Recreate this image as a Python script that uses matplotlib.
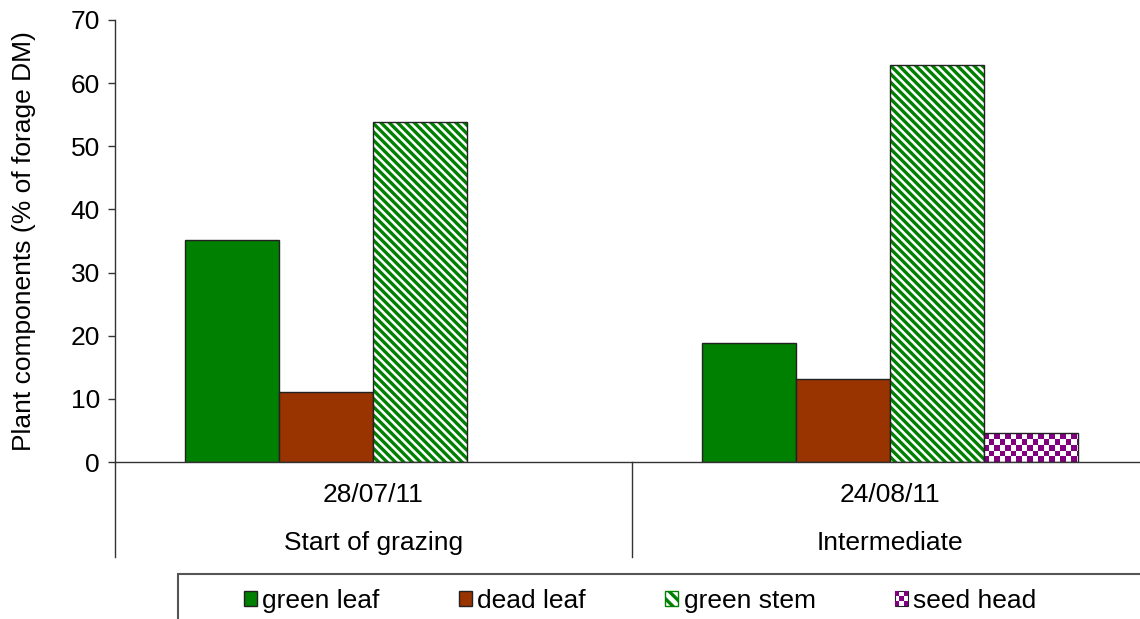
import numpy as np
import matplotlib.pyplot as plt
from matplotlib.patches import Patch, Rectangle
from matplotlib.colors import ListedColormap
from matplotlib.legend_handler import HandlerBase
import matplotlib.transforms as mtransforms

plt.rcParams['font.family'] = ['Liberation Sans', 'DejaVu Sans']
plt.rcParams['hatch.linewidth'] = 2.4

# data
dates = ["28/07/11", "24/08/11"]
stages = ["Start of grazing", "Intermediate"]
components = ["green leaf", "dead leaf", "green stem", "seed head"]
green_leaf = [35.1, 18.9]
dead_leaf = [11.1, 13.2]
green_stem = [53.8, 62.9]
seed_head = [0.0, 4.6]

c_green = "#008000"
c_brown = "#993300"
c_purple = "#800080"
edge = "#222222"
fs = 19


class CheckerHandler(HandlerBase):
    # small checkerboard square for the seed head legend entry
    def create_artists(self, legend, orig_handle, xdescent, ydescent, width, height, fontsize, trans):
        n = 3
        arts = [Rectangle((-xdescent, -ydescent), width, height, facecolor="white",
                          edgecolor=edge, lw=0.8, transform=trans)]
        for i in range(n):
            for j in range(n):
                if (i + j) % 2 == 0:
                    arts.append(Rectangle((-xdescent + i * width / n, -ydescent + j * height / n),
                                          width / n, height / n, facecolor=c_purple,
                                          edgecolor="none", transform=trans))
        return arts


fig = plt.figure(figsize=(11.4, 6.19), dpi=100)
ax = fig.add_axes([0.101, 0.2536, 0.906, 0.7141])

x = np.arange(len(dates))
w = 0.182
ax.bar(x - 1.5 * w, green_leaf, w, color=c_green, edgecolor=edge, linewidth=1)
ax.bar(x - 0.5 * w, dead_leaf, w, color=c_brown, edgecolor=edge, linewidth=1)
# hatched green stem: hatch layer then outline
ax.bar(x + 0.5 * w, green_stem, w, color="white", edgecolor=c_green, linewidth=0, hatch="\\\\\\\\")
ax.bar(x + 0.5 * w, green_stem, w, color="none", edgecolor=edge, linewidth=1)
# seed head: checkerboard fill clipped to each bar
seed = ax.bar(x + 1.5 * w, seed_head, w, color="none", edgecolor=edge, linewidth=1, zorder=3)
checker = np.indices((80, 188)).sum(axis=0) % 2
for p in seed:
    if p.get_height() <= 0:
        p.set_visible(False)
        continue
    im = ax.imshow(checker, cmap=ListedColormap(["white", c_purple]), extent=[0, 1, 0, 1],
                   transform=ax.transAxes, aspect="auto", interpolation="nearest", zorder=2)
    im.set_clip_path(p)

ax.set_xlim(-0.5, 1.5)
ax.set_ylim(0, 70)
ax.set_yticks(range(0, 71, 10))
ax.tick_params(axis="y", direction="out", length=5, width=1, labelsize=fs, pad=6, color="#333333")
ax.set_xticks(x)
ax.set_xticklabels(dates)
ax.tick_params(axis="x", length=0, labelsize=fs, pad=15)
ax.set_ylabel("Plant components (% of forage DM)", fontsize=fs, labelpad=25)

for s in ["top", "right"]:
    ax.spines[s].set_visible(False)
for s in ["left", "bottom"]:
    ax.spines[s].set_color("#333333")
    ax.spines[s].set_linewidth(1)

# second level of category labels and dividers
trans = mtransforms.blended_transform_factory(ax.transData, ax.transAxes)
for xi, st in zip(x, stages):
    ax.text(xi, -0.183, st, transform=trans, ha="center", va="center", fontsize=fs)
for xd in [-0.5, 0.5]:
    ax.plot([xd, xd], [0, -0.215], transform=trans, color="#333333", lw=1, clip_on=False)

# legend with its own frame running off the figure edge
fig.patches.append(Rectangle((178 / 1140, -0.1), 1.0, 0.1 + 45 / 619, transform=fig.transFigure,
                             facecolor="none", edgecolor="#555555", lw=1.5))
handles = [Patch(facecolor=c_green, edgecolor=edge),
           Patch(facecolor=c_brown, edgecolor=edge),
           Patch(facecolor="white", edgecolor=c_green, hatch="\\\\\\"),
           Patch(facecolor=c_purple, edgecolor=edge)]
fig.legend(handles, components, loc="center left", bbox_to_anchor=(244 / 1140, 18 / 619),
           ncol=4, frameon=False, fontsize=fs, handlelength=0.5, handleheight=0.5,
           handletextpad=0.2, columnspacing=3.0, borderpad=0, borderaxespad=0,
           handler_map={handles[3]: CheckerHandler()})

fig.savefig("out.png", dpi=100)
